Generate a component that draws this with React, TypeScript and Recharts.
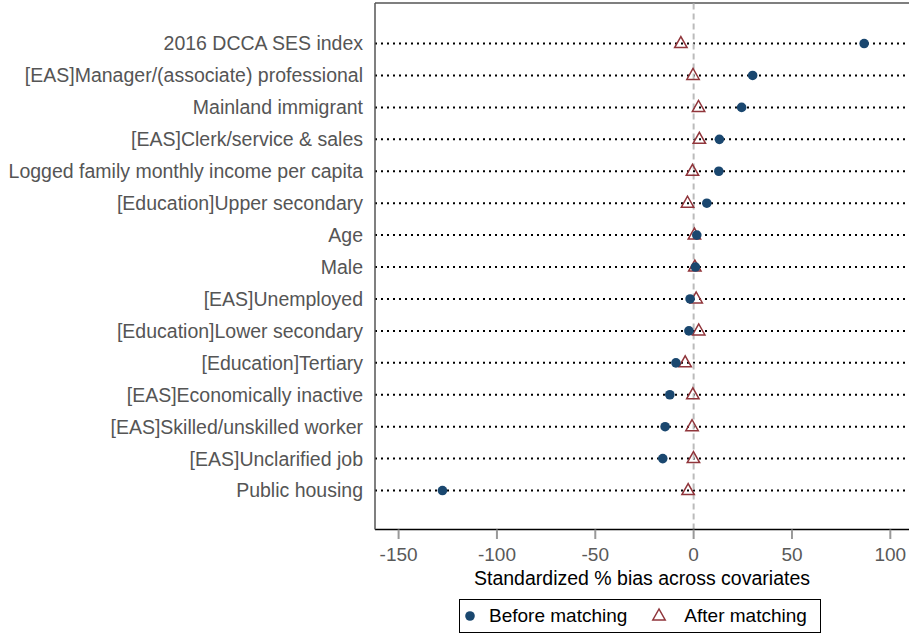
import {
  ScatterChart,
  Scatter,
  XAxis,
  YAxis,
  ReferenceLine,
  Legend
} from 'recharts';

const covariates = [
  '2016 DCCA SES index',
  '[EAS]Manager/(associate) professional',
  'Mainland immigrant',
  '[EAS]Clerk/service & sales',
  'Logged family monthly income per capita',
  '[Education]Upper secondary',
  'Age',
  'Male',
  '[EAS]Unemployed',
  '[Education]Lower secondary',
  '[Education]Tertiary',
  '[EAS]Economically inactive',
  '[EAS]Skilled/unskilled worker',
  '[EAS]Unclarified job',
  'Public housing'
];

const beforeMatching = [86.7, 30.0, 24.4, 13.1, 12.8, 6.7, 1.6, 0.9, -1.8, -2.4, -9.0, -12.1, -14.5, -15.7, -127.7];
const afterMatching = [-6.5, -0.3, 2.5, 2.9, -0.6, -3.1, 0.4, 0.6, 1.3, 2.6, -4.3, -0.4, -0.8, -0.1, -2.8];

const xTicks = [-150, -100, -50, 0, 50, 100];

const FONT = '"Liberation Sans", Arial, Helvetica, sans-serif';
const NAVY = '#1a476f';
const MAROON = '#90353b';

const rows = covariates.map((_, i) => i + 1);
const beforeData = beforeMatching.map((v, i) => ({ x: v, y: i + 1 }));
const afterData = afterMatching.map((v, i) => ({ x: v, y: i + 1 }));

const yDomain: [number, number] = [-0.27, 16.22];

function Dot(props: any) {
  return <circle cx={props.cx} cy={props.cy} r={4.8} fill={NAVY} />;
}

function Triangle(props: any) {
  const { cx, cy } = props;
  const pts = `${cx},${cy - 7} ${cx - 6.2},${cy + 4} ${cx + 6.2},${cy + 4}`;
  return <polygon points={pts} fill="none" stroke={MAROON} strokeWidth={1.5} />;
}

function LegendBox() {
  return (
    <div
      style={{
        boxSizing: 'border-box',
        width: 362,
        height: 34,
        border: '1px solid #000',
        display: 'flex',
        alignItems: 'center',
        fontFamily: FONT,
        fontSize: 19,
        color: '#000',
        background: '#fff'
      }}
    >
      <svg width={20} height={20} style={{ marginLeft: 4 }}>
        <circle cx={6} cy={10} r={4.8} fill={NAVY} />
      </svg>
      <span style={{ marginLeft: 5 }}>Before matching</span>
      <svg width={20} height={20} style={{ marginLeft: 24 }}>
        <polygon points="8,3 1.8,14 14.2,14" fill="none" stroke={MAROON} strokeWidth={1.5} />
      </svg>
      <span style={{ marginLeft: 13 }}>After matching</span>
    </div>
  );
}

export default function App() {
  return (
    <div style={{ position: 'absolute', left: 0, top: 0, background: '#fff' }}>
      <ScatterChart width={909} height={634} margin={{ top: 3, right: 0, bottom: 0, left: 0 }}>
        <XAxis
          type="number"
          dataKey="x"
          domain={[-162, 109.5]}
          ticks={xTicks}
          allowDataOverflow
          height={104.5}
          axisLine={{ stroke: '#000', strokeWidth: 1.5 }}
          tickLine={{ stroke: '#999', strokeWidth: 2 }}
          tickSize={9.5}
          tickMargin={9}
          tick={{ fill: '#595959', fontSize: 19, fontFamily: FONT }}
          label={(p: any) => {
            const vb = p.viewBox;
            return (
              <text
                x={vb.x + vb.width / 2}
                y={vb.y + 55}
                textAnchor="middle"
                fontSize={19.5}
                fontFamily={FONT}
                fill="#000"
              >
                Standardized % bias across covariates
              </text>
            );
          }}
        />
        <YAxis
          type="number"
          dataKey="y"
          domain={yDomain}
          reversed
          ticks={rows}
          interval={0}
          width={375}
          axisLine={{ stroke: '#555', strokeWidth: 1.5 }}
          tickLine={false}
          tickSize={0}
          tickMargin={12}
          tickFormatter={(v: number) => covariates[v - 1]}
          tick={{ fill: '#555', fontSize: 19.5, fontFamily: FONT }}
        />
        <ReferenceLine y={yDomain[0]} stroke="#555" strokeWidth={1.5} ifOverflow="visible" />
        {rows.map((r) => (
          <ReferenceLine key={r} y={r} stroke="#000" strokeWidth={2} strokeDasharray="2 4" />
        ))}
        <ReferenceLine x={0} stroke="#bbb" strokeWidth={2} strokeDasharray="6 4" />
        <Scatter name="After matching" data={afterData} shape={<Triangle />} isAnimationActive={false} />
        <Scatter name="Before matching" data={beforeData} shape={<Dot />} isAnimationActive={false} />
        <Legend
          layout="horizontal"
          verticalAlign="middle"
          align="center"
          content={() => <LegendBox />}
          wrapperStyle={{ left: 459, top: 599, width: 362, height: 34 }}
        />
      </ScatterChart>
    </div>
  );
}
